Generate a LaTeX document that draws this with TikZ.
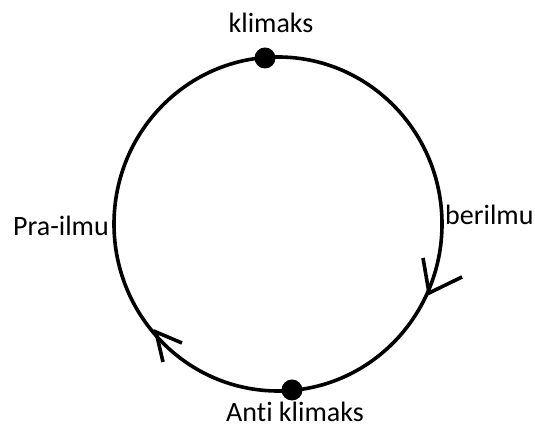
\documentclass[tikz,border=0pt]{standalone}
\usepackage{fontspec}
\setmainfont{Carlito}[Ligatures=NoCommon]
\usetikzlibrary{positioning}

\begin{document}
\begin{tikzpicture}[x=1pt, y=1pt, every node/.style={font=\fontsize{28}{32}\selectfont}]
\tikzset{cyc/.style={line width=3.6pt}}
\tikzset{dot/.style={circle, fill=black, inner sep=0pt, minimum size=21pt}}
\tikzset{lbl/.style={inner sep=0pt, anchor=base}}
\useasboundingbox (0,0) rectangle (535,427);
\coordinate (c) at (278,203);
\draw[cyc] (c) ellipse [x radius=164, y radius=167];
% titik klimaks dan anti klimaks
\node[dot] (top) at (265,369) {};
\node[dot] (bot) at (292,37) {};
\node[lbl] (klim) at (271,394) {klimaks};
\node[lbl] (anti) at (295,5) {Anti klimaks};
\node[lbl, anchor=base west] (pra) at (13,191) {Pra-ilmu};
\node[lbl, anchor=base west] (ber) at (445,202) {berilmu};
% arah putaran
\coordinate (tipR) at (429,134);
\coordinate (tipL) at (156,95);
\draw[cyc] (423,169) -- (tipR) -- (462,150);
\draw[cyc] (182,84) -- (tipL) -- (163,65);
\end{tikzpicture}
\end{document}
